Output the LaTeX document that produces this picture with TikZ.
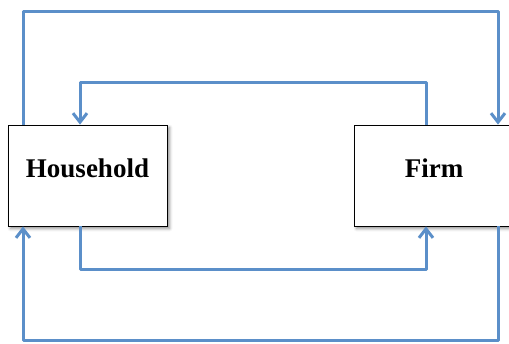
\documentclass[tikz,border=0pt]{standalone}
\usepackage{fontspec}
\setmainfont{Liberation Serif}
\usetikzlibrary{arrows.meta,shadows.blur}
\definecolor{flowblue}{RGB}{91,143,201}
\begin{document}
\begin{tikzpicture}[x=1bp,y=-1bp,
  agent/.style={draw=black, line width=0.8bp, fill=white, inner sep=0pt,
    minimum height=101bp, text height=18bp, text depth=15bp,
    font=\fontsize{27bp}{30bp}\selectfont\bfseries,
    blur shadow={shadow xshift=2.5bp, shadow yshift=-2.5bp, shadow blur radius=3bp, shadow opacity=45}},
  flow/.style={draw=flowblue, line width=3bp, line join=round,
    -{Straight Barb[length=9bp,width=14bp]}}]
\useasboundingbox (0,0) rectangle (509,343);
\node[agent, minimum width=159bp] (H) at (87.5,175.5) {Household};
\node[agent, minimum width=160bp] (F) at (434,175.5) {Firm};
\coordinate (oTL) at (23,11);
\coordinate (oTR) at (498,11);
\coordinate (iTL) at (80,82);
\coordinate (iTR) at (426,82);
\coordinate (iBL) at (80,269);
\coordinate (iBR) at (426,269);
\coordinate (oBL) at (23,340);
\coordinate (oBR) at (498,340);
\draw[flow] (H.north -| oTL) -- (oTL) -- (oTR) -- (F.north -| oTR);
\draw[flow] (F.north -| iTR) -- (iTR) -- (iTL) -- (H.north -| iTL);
\draw[flow] (H.south -| iBL) -- (iBL) -- (iBR) -- (F.south -| iBR);
\draw[flow] (F.south -| oBR) -- (oBR) -- (oBL) -- (H.south -| oBL);
\end{tikzpicture}
\end{document}
